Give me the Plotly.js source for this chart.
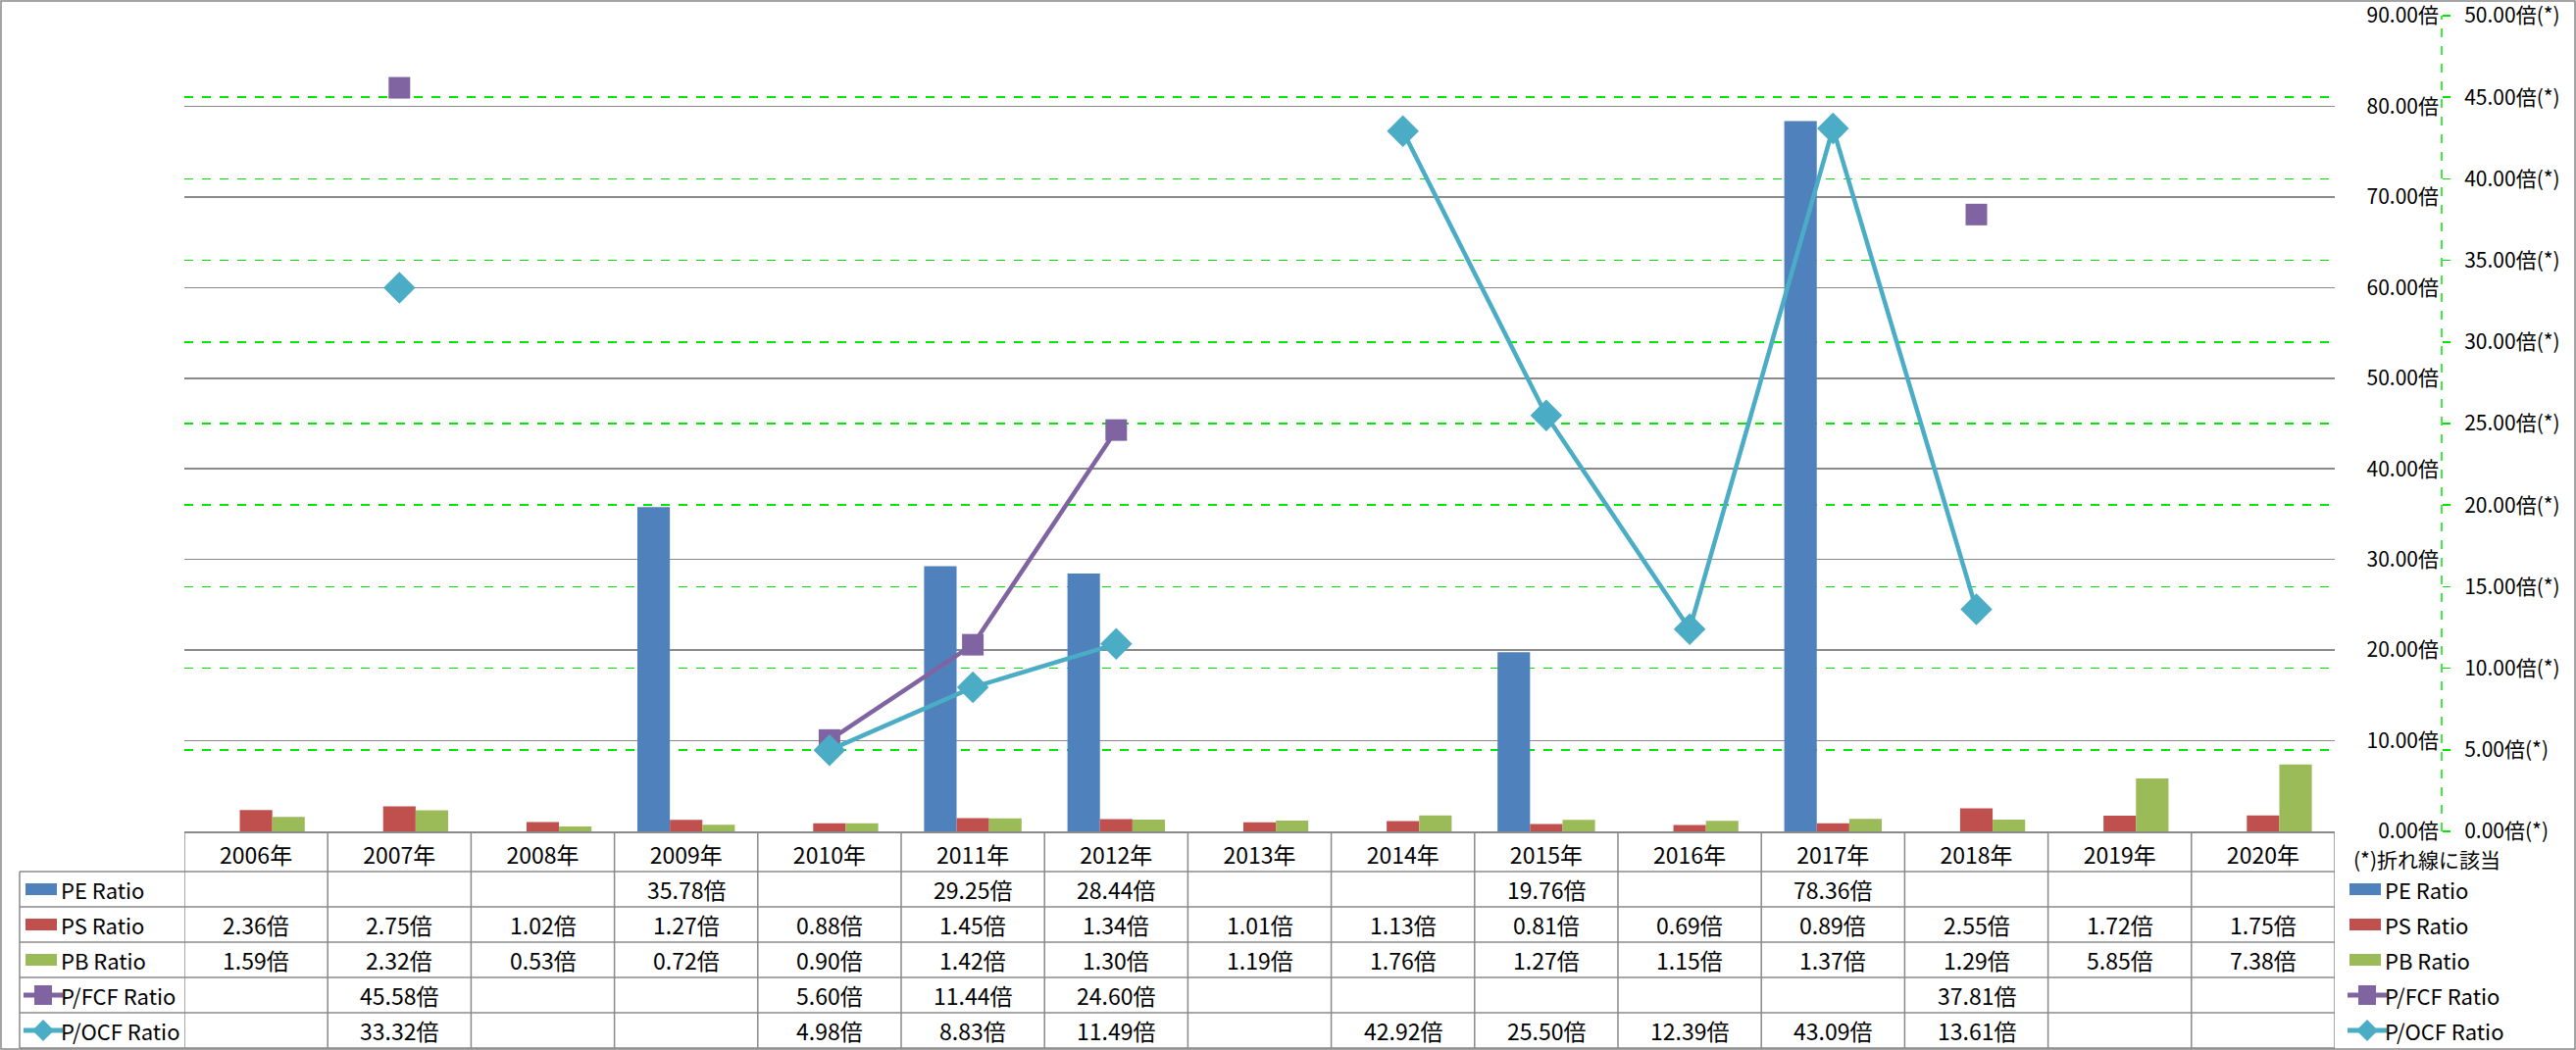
<!DOCTYPE html>
<html>
<head>
<meta charset="utf-8">
<script src="https://cdn.plot.ly/plotly-3.0.1.min.js"></script>
<style>
html,body{margin:0;padding:0;background:#fff;}
#chart{width:2627px;height:1071px;}
</style>
</head>
<body>
<div id="chart"></div>
<script>
// ---- data ----
const years = ['2006','2007','2008','2009','2010','2011','2012','2013','2014','2015','2016','2017','2018','2019','2020'];
const categories = years.map(y => y + '年');
const peRatio  = [null,null,null,35.78,null,29.25,28.44,null,null,19.76,null,78.36,null,null,null];
const psRatio  = [2.36,2.75,1.02,1.27,0.88,1.45,1.34,1.01,1.13,0.81,0.69,0.89,2.55,1.72,1.75];
const pbRatio  = [1.59,2.32,0.53,0.72,0.90,1.42,1.30,1.19,1.76,1.27,1.15,1.37,1.29,5.85,7.38];
const pfcfRatio = [null,45.58,null,null,5.60,11.44,24.60,null,null,null,null,null,37.81,null,null];
const pocfRatio = [null,33.32,null,null,4.98,8.83,11.49,null,42.92,25.50,12.39,43.09,13.61,null,null];
const seriesNames = ['PE Ratio','PS Ratio','PB Ratio','P/FCF Ratio','P/OCF Ratio'];
const noteText = '(*)折れ線に該当';

// ---- geometry / styles ----
const W = 2627, H = 1071;
const L = 188, T = 16, PH = 832, PR = 2381;
const PW = W - L;                // paper width (r margin 0)
const px = X => (X - L) / PW;
const py = Y => (T + PH - Y) / PH;
const colors = ['#4F81BD','#C0504D','#9BBB59','#8064A2','#4BACC6'];
const FONT = '"Noto Sans CJK JP", "Noto Sans", sans-serif';
const gridGray = '#8a8a8a';
const green = '#00E600';
const rowTop = [889, 925, 961, 997, 1033];
const rowH = 36;
const tableBottom = 1069;
const axisX = 2490;

const barSeries = [peRatio, psRatio, pbRatio];
const lineSeries = [pfcfRatio, pocfRatio];
const allSeries = [peRatio, psRatio, pbRatio, pfcfRatio, pocfRatio];

const traces = [];
barSeries.forEach((vals, i) => {
  traces.push({
    type: 'bar', name: seriesNames[i], x: categories, y: vals,
    marker: {color: colors[i]}, yaxis: 'y', xaxis: 'x',
    hoverinfo: 'skip'
  });
});
const lineSymbols = ['square','diamond'];
const lineSizes = [22, 25];
lineSeries.forEach((vals, i) => {
  traces.push({
    type: 'scatter', mode: 'lines+markers', name: seriesNames[3+i],
    x: categories, y: vals, yaxis: 'y2', xaxis: 'x',
    connectgaps: false,
    line: {color: colors[3+i], width: 4.5},
    marker: {symbol: lineSymbols[i], size: lineSizes[i], color: colors[3+i]},
    hoverinfo: 'skip'
  });
});

// ---- table shapes ----
const shapes = [];
const lineStyle = {color: gridGray, width: 1.5};
// outer border
shapes.push({type:'rect', xref:'paper', yref:'paper', x0:px(1), x1:px(W-1), y0:py(1), y1:py(H-1), line:{color:'#888', width:1.5}});
// secondary axis dashed line
shapes.push({type:'line', xref:'paper', yref:'paper', x0:px(axisX), x1:px(axisX), y0:0, y1:1, line:{color:green, width:1.5, dash:'dash'}});
// vertical category boundaries
for (let k = 0; k <= categories.length; k++) {
  shapes.push({type:'line', xref:'x', yref:'paper', x0:k-0.5, x1:k-0.5, y0:0, y1:py(tableBottom), line:lineStyle});
}
// left edge of legend column
shapes.push({type:'line', xref:'paper', yref:'paper', x0:px(20), x1:px(20), y0:py(rowTop[0]), y1:py(tableBottom), line:lineStyle});
// horizontal rows
rowTop.concat([tableBottom]).forEach(Y => {
  shapes.push({type:'line', xref:'paper', yref:'paper', x0:px(20), x1:px(PR), y0:py(Y), y1:py(Y), line:lineStyle});
});

// legend keys (left column and right legend)
function addKey(i, xStart, yc) {
  if (i < 3) {
    shapes.push({type:'rect', xref:'paper', yref:'paper', x0:px(xStart), x1:px(xStart+32), y0:py(yc+6), y1:py(yc-6), line:{width:0}, fillcolor:colors[i]});
  } else {
    const cx = xStart + 18;
    shapes.push({type:'line', xref:'paper', yref:'paper', x0:px(xStart-2), x1:px(xStart+38), y0:py(yc), y1:py(yc), line:{color:colors[i], width:5}});
    if (i === 3) {
      shapes.push({type:'rect', xref:'paper', yref:'paper', x0:px(cx-9), x1:px(cx+9), y0:py(yc+10), y1:py(yc-10), line:{width:0}, fillcolor:colors[i]});
    } else {
      const r = 11;
      const path = `M ${px(cx-r)} ${py(yc)} L ${px(cx)} ${py(yc-r)} L ${px(cx+r)} ${py(yc)} L ${px(cx)} ${py(yc+r)} Z`;
      shapes.push({type:'path', xref:'paper', yref:'paper', path: path, line:{width:0}, fillcolor:colors[i]});
    }
  }
}

// ---- annotations ----
const annotations = [];
const txtFont = {family: FONT, size: 23, color: '#000'};
const keyFont = {family: FONT, size: 22, color: '#000'};
allSeries.forEach((vals, r) => {
  const yc = rowTop[r] + rowH/2;
  vals.forEach((v, i) => {
    if (v === null) return;
    annotations.push({xref:'x', yref:'paper', x:i, y:py(yc), text: v.toFixed(2) + '倍', showarrow:false, font: txtFont, xanchor:'center', yanchor:'middle'});
  });
  // left legend column
  addKey(r, 26, yc);
  annotations.push({xref:'paper', yref:'paper', x:px(60), y:py(yc), text: seriesNames[r], showarrow:false, font: keyFont, xanchor:'left', yanchor:'middle'});
  // right legend
  addKey(r, 2396, yc);
  annotations.push({xref:'paper', yref:'paper', x:px(2430), y:py(yc), text: seriesNames[r], showarrow:false, font: keyFont, xanchor:'left', yanchor:'middle'});
});
annotations.push({xref:'paper', yref:'paper', x:px(2398), y:py(876), text: noteText, showarrow:false, font:{family:FONT, size:21, color:'#000'}, xanchor:'left', yanchor:'middle'});

const layout = {
  width: W, height: H,
  margin: {l: L, r: 0, t: T, b: H - T - PH, pad: 0},
  paper_bgcolor: '#fff', plot_bgcolor: 'rgba(0,0,0,0)',
  font: {family: FONT, color: '#000'},
  showlegend: false,
  barmode: 'group', bargap: 0.32, bargroupgap: 0,
  xaxis: {
    type: 'category', domain: [0, px(PR)], automargin: false,
    range: [-0.5, categories.length - 0.5], autorange: false,
    showgrid: false, zeroline: false,
    showline: true, linecolor: gridGray, linewidth: 1.5,
    ticks: '', tickfont: {family: FONT, size: 23, color: '#000'},
    ticklabelstandoff: 4, fixedrange: true
  },
  yaxis: {
    range: [0, 90], dtick: 10, tick0: 0, tickformat: '.2f', ticksuffix: '倍',
    side: 'right', anchor: 'free', position: px(axisX), automargin: false,
    ticklabelposition: 'inside', ticklabeloverflow: 'allow',
    showgrid: true, gridcolor: gridGray, gridwidth: 1.5,
    zeroline: false, showline: false, ticks: '',
    tickfont: {family: FONT, size: 21, color: '#000'}, fixedrange: true
  },
  yaxis2: {
    overlaying: 'y', range: [0, 50], dtick: 5, tick0: 0, tickformat: '.2f', ticksuffix: '倍(*)',
    side: 'right', anchor: 'free', position: px(axisX), automargin: false,
    showgrid: true, gridcolor: green, gridwidth: 1.5, griddash: 'dash',
    zeroline: false, showline: false, ticks: 'outside', ticklen: 8, tickcolor: green, tickwidth: 1.5,
    ticklabelstandoff: 10, ticklabeloverflow: 'allow',
    tickfont: {family: FONT, size: 21, color: '#000'}, fixedrange: true
  },
  shapes: shapes,
  annotations: annotations
};

Plotly.newPlot('chart', traces, layout, {displayModeBar: false, staticPlot: true});
</script>
</body>
</html>
